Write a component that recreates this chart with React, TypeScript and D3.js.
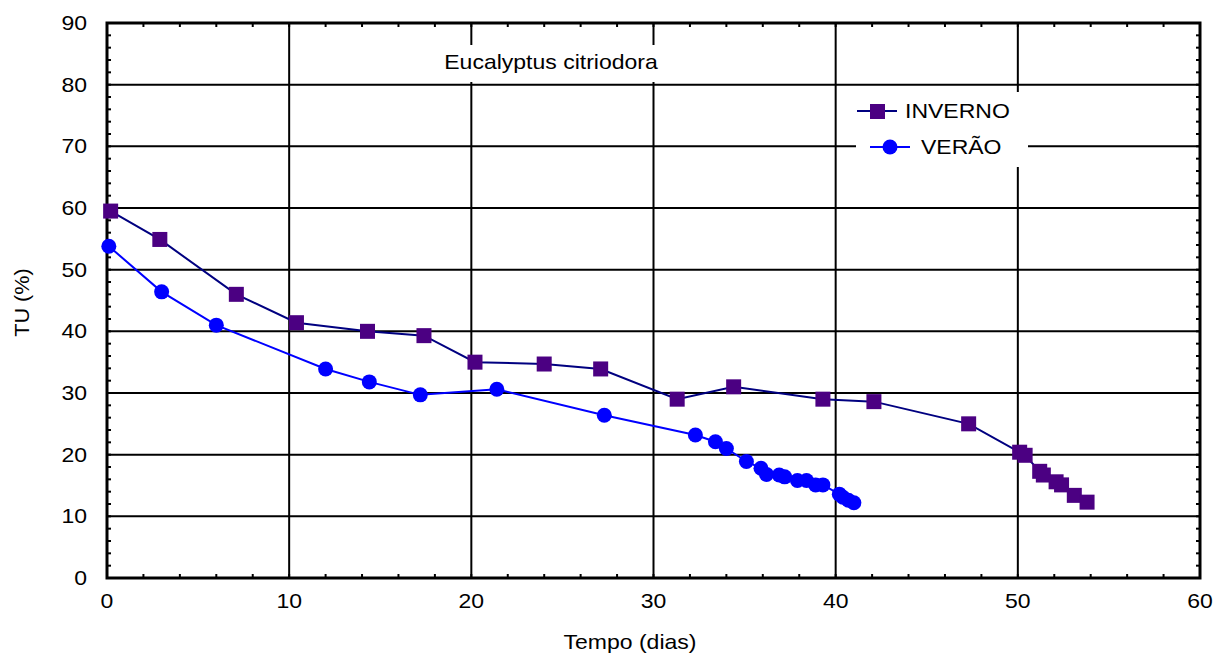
import React, { useEffect, useRef } from 'react';
import * as d3 from 'd3';

// INVERNO series (tempo em dias, TU %)
const invernoDias = [0.2, 2.9, 7.1, 10.4, 14.3, 17.4, 20.2, 24.0, 27.1, 31.3, 34.4, 39.3, 42.1, 47.3, 50.1, 50.4, 51.2, 51.4, 52.1, 52.4, 53.1, 53.8];
const invernoTU = [59.5, 54.9, 46.0, 41.4, 40.0, 39.3, 35.0, 34.7, 33.9, 29.0, 31.0, 29.0, 28.6, 25.0, 20.4, 19.9, 17.3, 16.7, 15.6, 15.1, 13.4, 12.3];

// VERÃO series
const veraoDias = [0.1, 3.0, 6.0, 12.0, 14.4, 17.2, 21.4, 27.3, 32.3, 33.4, 34.0, 35.1, 35.9, 36.2, 36.9, 37.2, 37.9, 38.4, 38.9, 39.3, 40.2, 40.4, 40.7, 41.0];
const veraoTU = [53.8, 46.4, 41.0, 33.9, 31.8, 29.7, 30.6, 26.4, 23.2, 22.1, 21.0, 18.9, 17.8, 16.8, 16.7, 16.4, 15.8, 15.8, 15.1, 15.1, 13.6, 13.1, 12.6, 12.2];

const xTicks = [0, 10, 20, 30, 40, 50, 60];
const yTicks = [0, 10, 20, 30, 40, 50, 60, 70, 80, 90];

const App = () => {
  const svgRef = useRef<SVGSVGElement>(null);

  useEffect(() => {
    const svg = d3.select(svgRef.current);
    svg.selectAll('*').remove();

    const width = 1228;
    const height = 654;
    const margin = { top: 23, right: 28, bottom: 76, left: 107 };
    const font = 'Liberation Sans, Arial, sans-serif';

    // the original text is a bit stretched sideways
    const label = (
      g: d3.Selection<any, unknown, null, undefined>,
      tx: number,
      ty: number,
      str: string | number,
      anchor = 'start',
      extra = ''
    ) =>
      g.append('text')
        .attr('transform', `translate(${tx},${ty}) ${extra} scale(1.15,1)`)
        .attr('text-anchor', anchor)
        .attr('font-family', font).attr('font-size', 20)
        .attr('fill', '#000')
        .text(str);

    const x = d3.scaleLinear().domain([0, 60]).range([margin.left, width - margin.right]);
    const y = d3.scaleLinear().domain([0, 90]).range([height - margin.bottom, margin.top]);
    const [x0, x1] = x.range();
    const [y0, y1] = y.range();

    // grid
    const grid = svg.append('g').attr('stroke', '#000').attr('stroke-width', 2);
    xTicks.slice(1, -1).forEach((t) => {
      grid.append('line').attr('x1', x(t)).attr('x2', x(t)).attr('y1', y0).attr('y2', y1);
    });
    yTicks.slice(1, -1).forEach((t) => {
      grid.append('line').attr('x1', x0).attr('x2', x1).attr('y1', y(t)).attr('y2', y(t));
    });

    // minor ticks pointing inward on all four sides
    const ticks = svg.append('g').attr('stroke', '#000').attr('stroke-width', 2);
    d3.range(0, 61, 2).forEach((t) => {
      ticks.append('line').attr('x1', x(t)).attr('x2', x(t)).attr('y1', y0).attr('y2', y0 - 4);
      ticks.append('line').attr('x1', x(t)).attr('x2', x(t)).attr('y1', y1).attr('y2', y1 + 4);
    });
    d3.range(0, 91, 2).forEach((t) => {
      ticks.append('line').attr('x1', x0).attr('x2', x0 + 4).attr('y1', y(t)).attr('y2', y(t));
      ticks.append('line').attr('x1', x1).attr('x2', x1 - 4).attr('y1', y(t)).attr('y2', y(t));
    });

    // frame
    svg.append('rect')
      .attr('x', x0).attr('y', y1)
      .attr('width', x1 - x0).attr('height', y0 - y1)
      .attr('fill', 'none').attr('stroke', '#000').attr('stroke-width', 3);

    // tick labels
    const tl = svg.append('g');
    xTicks.forEach((t) => label(tl, x(t), y0 + 30, t, 'middle'));
    yTicks.forEach((t) => label(tl, x0 - 20, y(t) + 7, t, 'end'));

    // axis titles
    label(svg, 630, 649, 'Tempo (dias)', 'middle');
    svg.append('text')
      .attr('transform', `translate(29,${(y0 + y1) / 2 + 2}) rotate(-90) scale(1.08,1)`)
      .attr('text-anchor', 'middle')
      .attr('font-family', font).attr('font-size', 20)
      .text('TU (%)');

    // title box
    svg.append('rect').attr('x', 430).attr('y', 45).attr('width', 260).attr('height', 37).attr('fill', '#fff');
    label(svg, 551, 69, 'Eucalyptus citriodora', 'middle');

    const line = d3.line<[number, number]>().x((d) => x(d[0])).y((d) => y(d[1]));
    const inverno: [number, number][] = invernoDias.map((d, i) => [d, invernoTU[i]]);
    const verao: [number, number][] = veraoDias.map((d, i) => [d, veraoTU[i]]);

    svg.append('path').datum(verao).attr('d', line)
      .attr('fill', 'none').attr('stroke', '#0000ff').attr('stroke-width', 2);
    svg.append('g').selectAll('circle').data(verao).join('circle')
      .attr('cx', (d) => x(d[0])).attr('cy', (d) => y(d[1]))
      .attr('r', 7.5).attr('fill', '#0000ff');

    svg.append('path').datum(inverno).attr('d', line)
      .attr('fill', 'none').attr('stroke', '#000080').attr('stroke-width', 2);
    svg.append('g').selectAll('rect').data(inverno).join('rect')
      .attr('x', (d) => x(d[0]) - 7.5).attr('y', (d) => y(d[1]) - 7.5)
      .attr('width', 15).attr('height', 15)
      .attr('fill', '#4b0082');

    // legend
    const lg = svg.append('g');
    lg.append('rect').attr('x', 856).attr('y', 92).attr('width', 172).attr('height', 75).attr('fill', '#fff');
    lg.append('line').attr('x1', 857).attr('x2', 897).attr('y1', 111).attr('y2', 111)
      .attr('stroke', '#000080').attr('stroke-width', 2);
    lg.append('rect').attr('x', 870).attr('y', 104).attr('width', 15).attr('height', 15).attr('fill', '#4b0082');
    label(lg, 905, 118, 'INVERNO');
    lg.append('line').attr('x1', 870).attr('x2', 910).attr('y1', 147).attr('y2', 147)
      .attr('stroke', '#0000ff').attr('stroke-width', 2);
    lg.append('circle').attr('cx', 890).attr('cy', 147).attr('r', 7.5).attr('fill', '#0000ff');
    label(lg, 921, 154, 'VERÃO');
  }, []);

  return <svg ref={svgRef} width={1228} height={654} style={{ position: 'absolute', left: 0, top: 0 }} />;
};

export default App;
